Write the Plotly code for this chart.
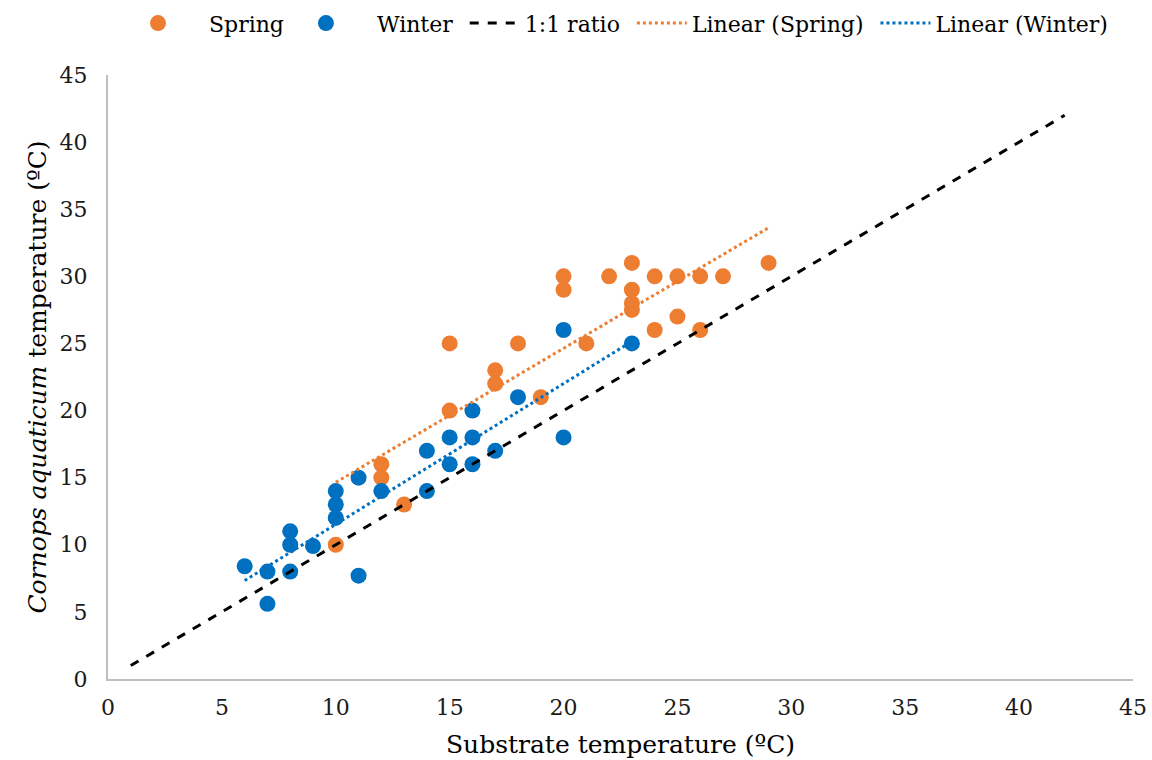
import numpy as np
import plotly.graph_objects as go

# Data
spring_x = [10, 12, 12, 13, 15, 15, 17, 17, 18, 19, 20, 20, 21, 22, 23, 23, 23, 23, 24, 24, 25, 25, 26, 26, 27, 29]
spring_y = [10, 16, 15, 13, 25, 20, 23, 22, 25, 21, 30, 29, 25, 30, 31, 29, 28, 27.5, 30, 26, 30, 27, 30, 26, 30, 31]

winter_x = [6, 7, 7, 8, 8, 8, 9, 10, 10, 10, 11, 11, 12, 14, 14, 15, 15, 16, 16, 16, 17, 18, 20, 20, 23]
winter_y = [8.4, 8, 5.6, 11, 10, 8, 9.9, 14, 13, 12, 15, 7.7, 14, 17, 14, 18, 16, 20, 18, 16, 17, 21, 26, 18, 25]

ratio_x = [1, 42]
ratio_y = [1, 42]

x_ticks = [0, 5, 10, 15, 20, 25, 30, 35, 40, 45]
y_ticks = [0, 5, 10, 15, 20, 25, 30, 35, 40, 45]

ORANGE = "#ED7D31"
BLUE = "#0070C0"
FONT = "DejaVu Serif"

def trend(xs, ys):
    m, b = np.polyfit(xs, ys, 1)
    xr = np.array([min(xs), max(xs)], dtype=float)
    return xr, m * xr + b

sx, sy = trend(spring_x, spring_y)
wx, wy = trend(winter_x, winter_y)

NB = "\u00a0"

fig = go.Figure()
fig.add_trace(go.Scatter(x=spring_x, y=spring_y, mode="markers", name=NB * 3 + "Spring" + NB,
                         marker=dict(color=ORANGE, size=16, line=dict(width=0))))
fig.add_trace(go.Scatter(x=winter_x, y=winter_y, mode="markers", name=NB * 3 + "Winter" + NB,
                         marker=dict(color=BLUE, size=16, line=dict(width=0))))
fig.add_trace(go.Scatter(x=ratio_x, y=ratio_y, mode="lines", name="1:1 ratio" + NB,
                         line=dict(color="black", width=3, dash="dash")))
fig.add_trace(go.Scatter(x=sx, y=sy, mode="lines", name="Linear (Spring)" + NB,
                         line=dict(color=ORANGE, width=3, dash="dot")))
fig.add_trace(go.Scatter(x=wx, y=wy, mode="lines", name="Linear (Winter)",
                         line=dict(color=BLUE, width=3, dash="dot")))

fig.update_layout(
    width=1152, height=760,
    margin=dict(l=108, r=19, t=75, b=81),
    paper_bgcolor="white", plot_bgcolor="white",
    font=dict(family=FONT, size=22, color="black"),
    showlegend=True,
    legend=dict(orientation="h", x=0.5, xanchor="center", y=0.997, yanchor="top",
                yref="container", font=dict(size=22), itemwidth=50,
                tracegroupgap=0),
)
fig.update_xaxes(range=[0, 45], tickvals=x_ticks, showgrid=False, zeroline=False,
                 showline=True, linecolor="#BFBFBF", linewidth=2, ticks="",
                 tickfont=dict(size=22, color="#1a1a1a"), ticklabelstandoff=8,
                 automargin=False,
                 title=dict(text="Substrate temperature (ºC)", font=dict(size=25), standoff=16))
fig.update_yaxes(range=[0, 45], tickvals=y_ticks, showgrid=False, zeroline=False,
                 showline=True, linecolor="#BFBFBF", linewidth=2, ticks="",
                 tickfont=dict(size=22, color="#1a1a1a"), ticklabelstandoff=14,
                 automargin=False,
                 title=dict(text="<i>Cornops aquaticum</i> temperature (ºC)", font=dict(size=25), standoff=6))

fig.write_html("out.html")
